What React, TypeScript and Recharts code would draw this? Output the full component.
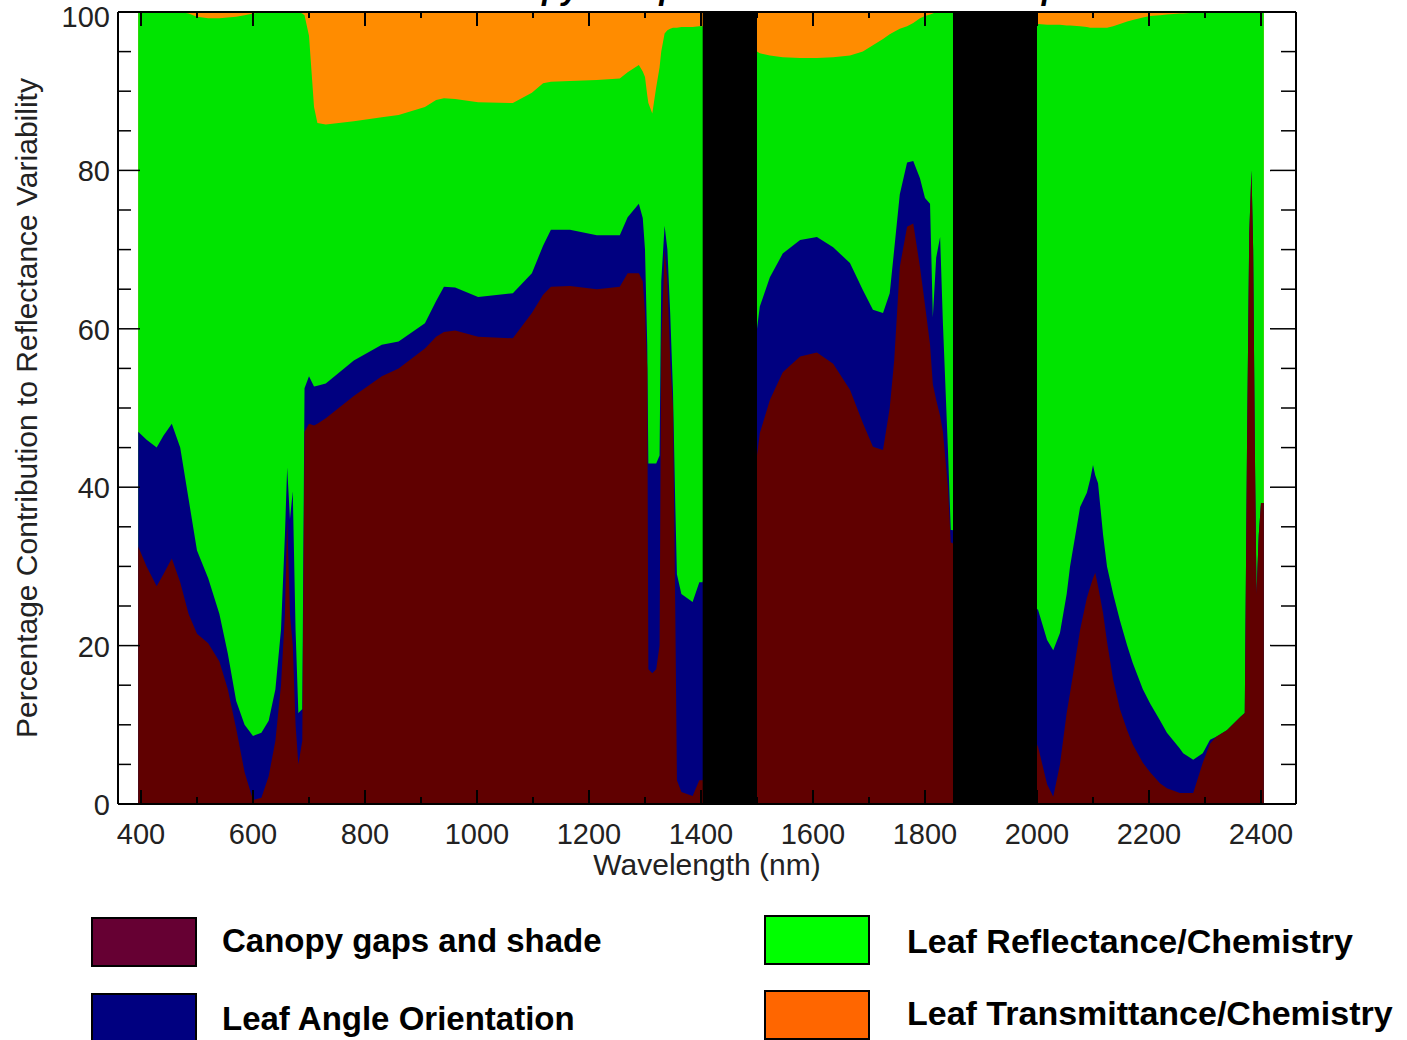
import React from 'react';
import { ComposedChart, Area, XAxis, YAxis, ReferenceArea } from 'recharts';

// wavelength (nm) and the top edge of each coloured band (cumulative %)
const wavelengths = [
  395, 410, 428, 440, 455, 470, 485, 500, 520, 540, 555, 570, 585, 600, 615, 628, 640, 650, 657, 661,
  666, 671, 676, 681, 688, 692, 700, 709, 715, 730, 780, 830, 860, 907, 927, 941, 961, 1002, 1064, 1098,
  1118, 1132, 1166, 1214, 1255, 1269, 1289, 1296, 1300, 1304, 1306, 1313, 1320, 1326, 1329, 1335, 1340, 1345, 1350, 1354,
  1357, 1365, 1385, 1397, 1403, 1450, 1500, 1505, 1523, 1546, 1577, 1607, 1636, 1666, 1689, 1707, 1725, 1737, 1745, 1755,
  1768, 1779, 1791, 1800, 1809, 1814, 1820, 1827, 1832, 1841, 1846, 1849, 1925, 2002, 2018, 2029, 2041, 2053, 2059, 2077,
  2089, 2095, 2100, 2104, 2109, 2118, 2125, 2136, 2148, 2161, 2171, 2189, 2202, 2220, 2232, 2255, 2261, 2279, 2296, 2309,
  2320, 2339, 2363, 2371, 2375, 2379, 2383, 2386, 2389, 2392, 2396, 2400, 2405,
];

const canopyGapsTop = [
  32.5, 30, 27.5, 29, 31, 28, 24, 21.5, 20.3, 18, 14.5, 9.5, 4, 0.5, 0.8, 3.5, 8, 15, 24, 36,
  24, 20, 10, 5, 8, 47, 48, 47.8, 48, 48.7, 51.5, 54, 55, 57.5, 59, 59.6, 59.8, 59, 58.8, 62,
  64.3, 65.3, 65.4, 65, 65.3, 67, 67, 66, 62, 55, 17, 16.5, 17, 20, 58, 70, 66, 56, 50, 25,
  3, 1.5, 1, 3, 3, 30, 44, 46.8, 51, 54.5, 56.5, 57, 55.6, 52.3, 48.1, 45.1, 44.7, 50, 56, 67.8,
  72.9, 73.3, 67.8, 63, 58, 53, 51, 49, 47, 40, 33, 33, 20, 7.2, 2.5, 0.9, 5, 11.5, 14, 22,
  26, 27.4, 28.5, 29.2, 27.5, 24.1, 20.5, 15.7, 12, 9.3, 7.5, 5.2, 4, 2.6, 2, 1.4, 1.4, 1.4, 5.2, 7.6,
  8.5, 9.3, 11, 11.5, 45, 72, 80, 70, 45, 26.5, 34, 38, 38,
];

const leafAngleTop = [
  47, 46, 45, 46.5, 48, 45, 38.5, 32, 28.5, 24, 19, 13, 10, 8.6, 9, 10.5, 14.5, 22, 34, 42.5,
  36, 39.5, 22, 11.5, 12, 52.5, 54, 52.7, 52.8, 53.1, 56, 58, 58.4, 60.7, 63.5, 65.3, 65.2, 64, 64.5, 67,
  70.5, 72.5, 72.5, 71.8, 71.8, 74.1, 75.8, 74, 70, 58, 43, 43, 43, 44, 66, 73, 70, 62, 52, 38,
  29, 26.5, 25.5, 28, 28, 50, 60, 62.8, 66.5, 69.5, 71.2, 71.6, 70.3, 68.3, 64.9, 62.4, 62, 64.5, 70, 77,
  81, 81.2, 79, 76.5, 75.8, 61.5, 69, 71.6, 60.7, 44.7, 34.6, 34.6, 30, 24.5, 20.7, 19.4, 21.6, 26.5, 30, 37.5,
  39.3, 41, 42.8, 41.5, 40.5, 34, 30, 26.5, 23.2, 20, 17.8, 14.5, 12.7, 10.5, 9, 7, 6.4, 5.6, 6.4, 8.1,
  8.5, 9.3, 11, 11.5, 45, 72, 80, 70, 45, 26.5, 34, 38, 38,
];

const leafReflectanceTop = [
  100, 100, 100, 100, 100, 100, 99.8, 99.4, 99.2, 99.2, 99.3, 99.4, 99.6, 99.8, 100, 100, 100, 100, 100, 100,
  100, 100, 100, 100, 99.8, 99.6, 97, 88, 86, 85.8, 86.2, 86.7, 87, 88, 88.9, 89.1, 89, 88.6, 88.5, 89.8,
  91, 91.2, 91.3, 91.4, 91.6, 92.4, 93.3, 92.5, 91.8, 89.5, 88.5, 87.2, 90.5, 93, 95, 97.3, 97.7, 97.9, 98, 98,
  98, 98.1, 98.1, 98.2, 98.2, 96, 95, 94.8, 94.5, 94.3, 94.2, 94.2, 94.3, 94.5, 95, 95.8, 96.6, 97.2, 97.5, 97.9,
  98.2, 98.6, 99.2, 99.5, 99.7, 99.8, 100, 100, 100, 100, 100, 100, 99, 98.5, 98.4, 98.4, 98.4, 98.3, 98.3, 98.2,
  98.1, 98, 98, 98, 98, 98, 98, 98.2, 98.5, 98.8, 99, 99.3, 99.5, 99.6, 99.7, 99.8, 99.8, 99.9, 100, 100,
  100, 100, 100, 100, 100, 100, 100, 100, 100, 100, 100, 100, 100,
];

const leafTransmittanceTop = [
  100, 100, 100, 100, 100, 100, 100, 100, 100, 100, 100, 100, 100, 100, 100, 100, 100, 100, 100, 100,
  100, 100, 100, 100, 100, 100, 100, 100, 100, 100, 100, 100, 100, 100, 100, 100, 100, 100, 100, 100,
  100, 100, 100, 100, 100, 100, 100, 100, 100, 100, 100, 100, 100, 100, 100, 100, 100, 100, 100, 100,
  100, 100, 100, 100, 100, 100, 100, 100, 100, 100, 100, 100, 100, 100, 100, 100, 100, 100, 100, 100,
  100, 100, 100, 100, 100, 100, 100, 100, 100, 100, 100, 100, 100, 100, 100, 100, 100, 100, 100, 100,
  100, 100, 100, 100, 100, 100, 100, 100, 100, 100, 100, 100, 100, 100, 100, 100, 100, 100, 100, 100,
  100, 100, 100, 100, 100, 100, 100, 100, 100, 100, 100, 100, 100,
];

// masked water absorption bands
const waterBands = [
  [1403, 1500],
  [1850, 2000],
];

const xTicks = [400, 500, 600, 700, 800, 900, 1000, 1100, 1200, 1300, 1400, 1500, 1600, 1700, 1800, 1900, 2000, 2100, 2200, 2300, 2400];
const yTicks = [0, 5, 10, 15, 20, 25, 30, 35, 40, 45, 50, 55, 60, 65, 70, 75, 80, 85, 90, 95, 100];

const legendItems = [
  { name: 'Canopy gaps and shade', color: '#660033', x: 92, y: 918, tx: 222, ty: 952, fs: 33 },
  { name: 'Leaf Angle Orientation', color: '#000080', x: 92, y: 994, tx: 222, ty: 1030, fs: 33 },
  { name: 'Leaf Reflectance/Chemistry', color: '#00ff00', x: 765, y: 916, tx: 907, ty: 953, fs: 34 },
  { name: 'Leaf Transmittance/Chemistry', color: '#ff6600', x: 765, y: 991, tx: 907, ty: 1025, fs: 34 },
];

const FONT = '"Liberation Sans", Arial, sans-serif';

const BottomTick = (props: any) => {
  const { x, y, payload } = props;
  const major = payload.value % 200 === 0;
  return (
    <g>
      <line x1={x} x2={x} y1={y} y2={y - (major ? 14 : 7)} stroke="#000" strokeWidth={2} />
      {major && (
        <text x={x} y={y + 40} textAnchor="middle" fontFamily={FONT} fontSize={29} fill="#222">
          {payload.value}
        </text>
      )}
    </g>
  );
};

const TopTick = (props: any) => {
  const { x, y, payload } = props;
  const major = payload.value % 200 === 0;
  return <line x1={x} x2={x} y1={y} y2={y + (major ? 14 : 6)} stroke="#000" strokeWidth={2} />;
};

const LeftTick = (props: any) => {
  const { x, y, payload } = props;
  const major = payload.value % 20 === 0;
  return (
    <g>
      <line x1={x} x2={x + (major ? 22 : 13)} y1={y} y2={y} stroke="#000" strokeWidth={1.5} />
      {major && (
        <text x={x - 8} y={y + (payload.value === 100 ? 15 : 11)} textAnchor="end" fontFamily={FONT} fontSize={29} fill="#222">
          {payload.value}
        </text>
      )}
    </g>
  );
};

const RightTick = (props: any) => {
  const { x, y, payload } = props;
  const major = payload.value % 20 === 0;
  return <line x1={x} x2={x - (major ? 26 : 15)} y1={y} y2={y} stroke="#000" strokeWidth={1.5} />;
};

export default function App() {
  const data = wavelengths.map((wl, i) => ({
    wl,
    gaps: canopyGapsTop[i],
    angle: leafAngleTop[i],
    refl: leafReflectanceTop[i],
    trans: leafTransmittanceTop[i],
  }));

  return (
    <div style={{ position: 'absolute', left: 0, top: 0, width: 1407, height: 1040, overflow: 'hidden', background: '#fff' }}>
      <ComposedChart width={1407} height={890} data={data} margin={{ top: 10, right: 91, bottom: 46, left: 58 }}>
        <Area xAxisId="b" yAxisId="l" dataKey="trans" type="linear" stroke="none" fill="#ff8c00" fillOpacity={1} dot={false} activeDot={false} isAnimationActive={false} />
        <Area xAxisId="b" yAxisId="l" dataKey="refl" type="linear" stroke="none" fill="#00e400" fillOpacity={1} dot={false} activeDot={false} isAnimationActive={false} />
        <Area xAxisId="b" yAxisId="l" dataKey="angle" type="linear" stroke="none" fill="#000080" fillOpacity={1} dot={false} activeDot={false} isAnimationActive={false} />
        <Area xAxisId="b" yAxisId="l" dataKey="gaps" type="linear" stroke="none" fill="#600000" fillOpacity={1} dot={false} activeDot={false} isAnimationActive={false} />
        {waterBands.map(([a, b]) => (
          <ReferenceArea key={a} xAxisId="b" yAxisId="l" x1={a} x2={b} y1={0} y2={100} fill="#000" fillOpacity={1} stroke="none" />
        ))}
        <XAxis
          xAxisId="b"
          dataKey="wl"
          type="number"
          domain={[358.93, 2462.5]}
          allowDataOverflow
          ticks={xTicks}
          interval={0}
          height={40}
          tickSize={0}
          tickMargin={0}
          tickLine={false}
          axisLine={{ stroke: '#000', strokeWidth: 2 }}
          tick={<BottomTick />}
        />
        <XAxis
          xAxisId="t"
          orientation="top"
          dataKey="wl"
          type="number"
          domain={[358.93, 2462.5]}
          allowDataOverflow
          ticks={xTicks}
          interval={0}
          height={2}
          tickSize={0}
          tickMargin={0}
          tickLine={false}
          axisLine={{ stroke: '#000', strokeWidth: 2 }}
          tick={<TopTick />}
        />
        <YAxis
          yAxisId="l"
          type="number"
          domain={[0, 100]}
          allowDataOverflow
          ticks={yTicks}
          interval={0}
          width={60}
          tickSize={0}
          tickMargin={0}
          tickLine={false}
          axisLine={{ stroke: '#000', strokeWidth: 2 }}
          tick={<LeftTick />}
        />
        <YAxis
          yAxisId="r"
          orientation="right"
          type="number"
          domain={[0, 100]}
          allowDataOverflow
          ticks={yTicks}
          interval={0}
          width={20}
          tickSize={0}
          tickMargin={0}
          tickLine={false}
          axisLine={{ stroke: '#000', strokeWidth: 2 }}
          tick={<RightTick />}
        />
      </ComposedChart>

      <svg width={1407} height={1040} style={{ position: 'absolute', left: 0, top: 0, pointerEvents: 'none' }}>
        {/* title sits above the frame and is cut by the page edge, as in the source image */}
        <text x={462} y={-1} fontFamily={FONT} fontStyle="italic" fontWeight="bold" fontSize={32} fill="#000">
          Canopy Components to Reflectance Spectra
        </text>
        <text x={707} y={875} textAnchor="middle" fontFamily={FONT} fontSize={30} fill="#222">
          Wavelength (nm)
        </text>
        <text
          x={37}
          y={408}
          textAnchor="middle"
          transform="rotate(-90 37 408)"
          fontFamily={FONT}
          fontSize={30}
          fill="#222"
        >
          Percentage Contribution to Reflectance Variability
        </text>
        {legendItems.map((it) => (
          <g key={it.name}>
            <rect x={it.x} y={it.y} width={104} height={48} fill={it.color} stroke="#000" strokeWidth={2} />
            <text x={it.tx} y={it.ty} fontFamily={FONT} fontWeight="bold" fontSize={it.fs} fill="#000">
              {it.name}
            </text>
          </g>
        ))}
      </svg>
    </div>
  );
}
